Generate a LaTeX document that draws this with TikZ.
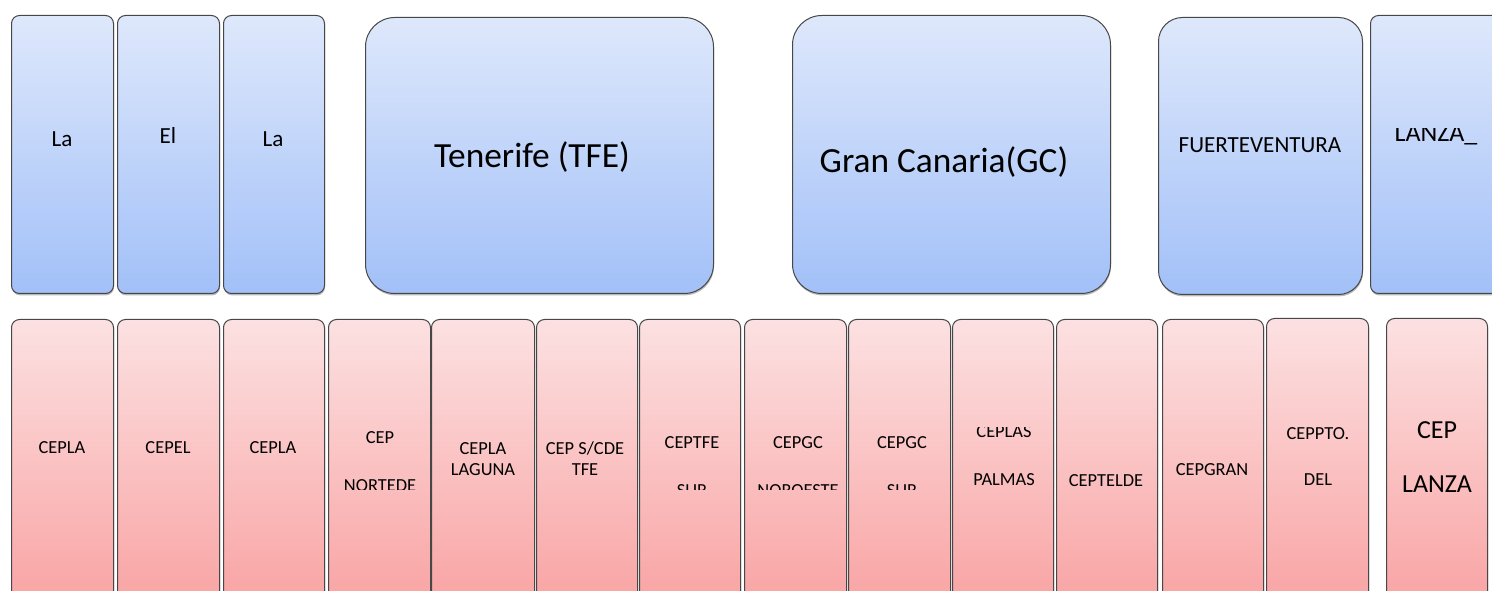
\documentclass[tikz,border=0pt]{standalone}
\usepackage{fontspec}
\setmainfont{Carlito}
\usetikzlibrary{positioning,shadows}

\definecolor{isleTop}{HTML}{DEE8FB}
\definecolor{isleBot}{HTML}{A2C0F8}
\definecolor{cepTop}{HTML}{FCE1E2}
\definecolor{cepBot}{HTML}{F9A2A2}

\tikzset{
  dims/.style 2 args={minimum width={#1*0.75pt}, minimum height={#2*0.75pt}},
  isle/.style={draw=black!72, line width=0.75pt, top color=isleTop, bottom color=isleBot,
    anchor=north west, inner sep=0pt, rounded corners=6pt,
    drop shadow={shadow xshift=0.4pt, shadow yshift=-1.4pt, opacity=0.55}},
  cep/.style={isle, top color=cepTop, bottom color=cepBot,
    drop shadow={shadow xshift=0.4pt, shadow yshift=-0.8pt, opacity=0.3}},
  bigcorner/.style={rounded corners=22pt},
  midcorner/.style={rounded corners=18pt},
  txt/.style={anchor=base, inner sep=0pt, font=\fontsize{13.8}{16}\selectfont},
  islefont/.style={txt, font=\fontsize{17.3}{20}\selectfont},
  bigfont/.style={txt, font=\fontsize{26.5}{30}\selectfont},
  lzfont/.style={txt, font=\fontsize{19.5}{22}\selectfont},
}

\begin{document}
\begin{tikzpicture}[x=0.75pt, y=-0.75pt]
  \useasboundingbox (0,0) rectangle (1492,591);

  % Islands
  \node[isle, dims={102}{278}] (la1) at (11,15) {};
  \node[isle, dims={102}{278}] (el) at (117,15) {};
  \node[isle, dims={101}{278}] (la2) at (223,15) {};
  \node[isle, bigcorner, dims={348}{276}] (tfe) at (365,17) {};
  \node[isle, bigcorner, dims={318}{278}] (gc) at (792,15) {};
  \node[isle, midcorner, dims={204}{277}] (fv) at (1158,17) {};
  \node[isle, dims={132}{278}] (lz) at (1370,15) {};

  \node[islefont] (tla1) at (62,147) {La};
  \node[islefont] (tel) at (168,144) {El};
  \node[islefont] (tla2) at (273,147) {La};
  \node[bigfont] (ttfe) at (532,168) {Tenerife (TFE)};
  \node[bigfont] (tgc) at (944,173) {Gran Canaria(GC)};
  \node[islefont] (tfv) at (1260,153) {FUERTEVENTURA};
  \begin{scope}
    \clip (1370,129) rectangle (1492,200);
    \node[lzfont] (tlz) at (1436,142) {LANZA\_};
  \end{scope}

  % CEPs
  \node[cep, dims={102}{291}] (c1) at (11,319) {};
  \node[cep, dims={102}{291}] (c2) at (117,319) {};
  \node[cep, dims={101}{291}] (c3) at (223,319) {};
  \node[cep, dims={102}{291}] (c4) at (328,319) {};
  \node[cep, dims={103}{291}] (c5) at (431,319) {};
  \node[cep, dims={101}{291}] (c6) at (536,319) {};
  \node[cep, dims={101}{291}] (c7) at (639,319) {};
  \node[cep, dims={102}{291}] (c8) at (744,319) {};
  \node[cep, dims={102}{291}] (c9) at (848,319) {};
  \node[cep, dims={101}{291}] (c10) at (952,319) {};
  \node[cep, dims={101}{291}] (c11) at (1056,319) {};
  \node[cep, dims={101}{291}] (c12) at (1162,319) {};
  \node[cep, dims={102}{292}] (c13) at (1266,318) {};
  \node[cep, dims={101}{292}] (c14) at (1386,318) {};

  \node[txt] (t1) at (62,454) {CEPLA};
  \node[txt] (t2) at (168,454) {CEPEL};
  \node[txt] (t3) at (273,454) {CEPLA};
  \node[txt] (t4) at (380,444) {CEP};
  \node[txt] (t5a) at (483,455) {CEPLA};
  \node[txt] (t5b) at (483,475) {LAGUNA};
  \node[txt] (t6a) at (585,455) {CEP S/CDE};
  \node[txt] (t6b) at (585,475) {TFE};
  \node[txt] (t7) at (692,448) {CEPTFE};
  \node[txt] (t8) at (798,448) {CEPGC};
  \node[txt] (t9) at (902,448) {CEPGC};
  \node[txt] (t10b) at (1004,485) {PALMAS};
  \node[txt] (t11) at (1106,486) {CEPTELDE};
  \node[txt] (t12) at (1212,475) {CEPGRAN};
  \node[txt] (t13a) at (1318,440) {CEPPTO.};
  \node[txt] (t13b) at (1318,485) {DEL};
  \node[lzfont] (t14a) at (1437,438) {CEP};
  \node[lzfont] (t14b) at (1437,492) {LANZA};

  % cut lines
  \begin{scope}
    \clip (320,300) rectangle (960,489);
    \node[txt] (t4b) at (380,491) {NORTEDE};
    \node[txt] (t7b) at (692,496) {SUR};
    \node[txt] (t8b) at (798,496) {NOROESTE};
    \node[txt] (t9b) at (902,496) {SUR};
  \end{scope}
  \begin{scope}
    \clip (952,428) rectangle (1053,460);
    \node[txt] (t10a) at (1004,437) {CEPLAS};
  \end{scope}
\end{tikzpicture}
\end{document}
